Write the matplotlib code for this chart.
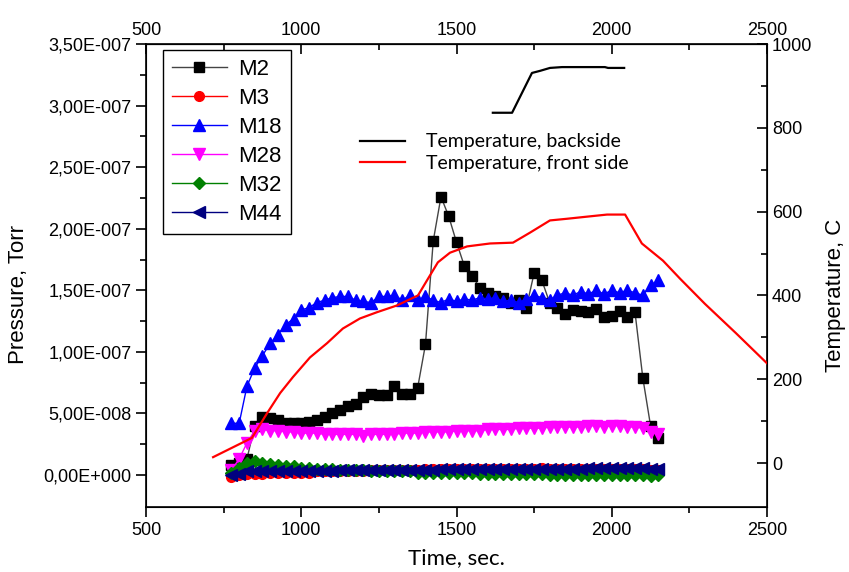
import numpy as np
import matplotlib
matplotlib.use("Agg")
import matplotlib.pyplot as plt
from matplotlib.ticker import FuncFormatter, MultipleLocator, FixedLocator


# time grid of the mass spectrometer scans, sec.
time_s = [775, 800, 825, 850, 875, 900, 925, 950, 975, 1000,
          1025, 1050, 1075, 1100, 1125, 1150, 1175, 1200, 1225, 1250,
          1275, 1300, 1325, 1350, 1375, 1400, 1425, 1450, 1475, 1500,
          1525, 1550, 1575, 1600, 1625, 1650, 1675, 1700, 1725, 1750,
          1775, 1800, 1825, 1850, 1875, 1900, 1925, 1950, 1975, 2000,
          2025, 2050, 2075, 2100, 2125, 2150]

# partial pressures in units of 1e-8 Torr
m2 = [0.8, 1.0, 1.3, 4.0, 4.7, 4.6, 4.5, 4.2, 4.2, 4.2,
      4.3, 4.5, 4.7, 5.0, 5.3, 5.6, 5.8, 6.3, 6.6, 6.5,
      6.5, 7.2, 6.6, 6.6, 7.1, 10.6, 19.0, 22.6, 21.0, 18.9,
      17.0, 16.2, 15.2, 14.8, 14.5, 14.4, 14.0, 14.2, 13.6, 16.4,
      15.8, 14.0, 13.6, 13.1, 13.4, 13.3, 13.2, 13.5, 12.8, 12.9,
      13.3, 12.8, 13.2, 7.9, 4.0, 3.0]
m3 = [-0.2, 0.0, 0.1, 0.1, 0.1, 0.2, 0.2, 0.2, 0.2, 0.2,
      0.2, 0.3, 0.3, 0.3, 0.3, 0.3, 0.3, 0.3, 0.4, 0.4,
      0.4, 0.4, 0.4, 0.4, 0.4, 0.5, 0.5, 0.5, 0.5, 0.5,
      0.5, 0.5, 0.5, 0.5, 0.5, 0.5, 0.5, 0.5, 0.5, 0.5,
      0.6, 0.5, 0.5, 0.5, 0.5, 0.5, 0.5, 0.5, 0.5, 0.5,
      0.5, 0.5, 0.5, 0.5, 0.4, 0.4]
m18 = [4.2, 4.2, 7.2, 8.7, 9.7, 10.7, 11.4, 12.2, 12.7, 13.4,
       13.6, 14.0, 14.2, 14.4, 14.5, 14.5, 14.2, 14.1, 14.0, 14.5,
       14.5, 14.6, 14.2, 14.6, 14.2, 14.5, 14.2, 14.0, 14.3, 14.1,
       14.3, 14.2, 14.4, 14.3, 14.4, 14.1, 14.2, 14.0, 14.3, 14.6,
       14.4, 14.2, 14.6, 14.8, 14.6, 14.9, 14.7, 15.0, 14.7, 15.0,
       14.8, 15.0, 14.8, 14.6, 15.4, 15.8]
m28 = [0.4, 1.3, 2.6, 3.6, 3.7, 3.6, 3.6, 3.5, 3.5, 3.4,
       3.4, 3.4, 3.3, 3.3, 3.3, 3.3, 3.3, 3.2, 3.3, 3.3,
       3.3, 3.3, 3.4, 3.4, 3.4, 3.5, 3.5, 3.5, 3.5, 3.6,
       3.6, 3.6, 3.6, 3.7, 3.7, 3.7, 3.7, 3.8, 3.8, 3.8,
       3.8, 3.9, 3.9, 3.9, 3.9, 3.9, 4.0, 4.0, 3.9, 4.0,
       4.0, 3.9, 3.9, 3.8, 3.5, 3.3]
m32 = [0.2, 0.6, 1.0, 1.1, 1.0, 0.9, 0.8, 0.7, 0.7, 0.6,
       0.6, 0.5, 0.5, 0.5, 0.4, 0.4, 0.4, 0.4, 0.3, 0.3,
       0.3, 0.3, 0.3, 0.3, 0.2, 0.2, 0.2, 0.2, 0.2, 0.2,
       0.2, 0.2, 0.1, 0.1, 0.1, 0.1, 0.1, 0.1, 0.1, 0.1,
       0.1, 0.0, 0.0, 0.0, 0.0, 0.0, 0.0, 0.0, 0.0, 0.0,
       0.0, 0.0, 0.0, 0.0, -0.1, 0.0]
m44 = [0.0, 0.1, 0.3, 0.3, 0.3, 0.3, 0.3, 0.3, 0.3, 0.3,
       0.3, 0.3, 0.3, 0.3, 0.4, 0.4, 0.4, 0.4, 0.4, 0.4,
       0.4, 0.4, 0.4, 0.4, 0.4, 0.4, 0.4, 0.5, 0.5, 0.5,
       0.5, 0.5, 0.5, 0.5, 0.5, 0.5, 0.5, 0.5, 0.5, 0.5,
       0.5, 0.5, 0.5, 0.5, 0.5, 0.5, 0.6, 0.6, 0.6, 0.6,
       0.6, 0.6, 0.6, 0.6, 0.5, 0.5]

# thermocouple readings, C
back_time = [1617, 1679, 1743, 1769, 1801, 1840, 1978, 1988, 2040]
back_temp = [836, 836, 931, 936, 943, 945, 945, 943, 943]
front_time = [716, 841, 890, 932, 973, 1028, 1083, 1134, 1189, 1244,
              1308, 1376, 1405, 1440, 1479, 1534, 1608, 1682, 1737, 1801,
              1856, 1920, 1985, 2043, 2097, 2165, 2220, 2300, 2400, 2500]
front_temp = [14, 60, 119, 167, 205, 252, 286, 321, 345, 360,
              376, 400, 436, 479, 502, 517, 524, 526, 550, 579,
              583, 588, 593, 593, 524, 483, 440, 380, 310, 238]

SANS = "Liberation Sans"
HUMANIST = "Lato"


def origin_sci(value, pos):
    """Origin style labels: 3,50E-007"""
    if abs(value) < 1e-20:
        return "0,00E+000"
    exponent = int(np.floor(np.log10(abs(value)) + 1e-9))
    mantissa = value / 10 ** exponent
    sign = "+" if exponent >= 0 else "-"
    return f"{mantissa:.2f}".replace(".", ",") + f"E{sign}{abs(exponent):03d}"


fig = plt.figure(figsize=(8.49, 5.72), dpi=100)
ax = fig.add_axes([0.172, 0.1136, 0.7314, 0.8094])

series = [
    ("M2", m2, "s", "black", "#444444", 7),
    ("M3", m3, "o", "red", "red", 7),
    ("M18", m18, "^", "blue", "blue", 8),
    ("M28", m28, "v", "magenta", "magenta", 8),
    ("M32", m32, "D", "green", "green", 6.5),
    ("M44", m44, "<", "navy", "navy", 8),
]

t = np.array(time_s)
for label, values, marker, color, line_color, size in series:
    ax.plot(t, np.array(values) * 1e-8, color=line_color, linewidth=1.0,
            marker=marker, markersize=size, markerfacecolor=color,
            markeredgecolor=color, label=label)

ax.set_xlim(500, 2500)
ax.set_ylim(-2.6e-8, 3.5e-7)
ax.xaxis.set_major_locator(MultipleLocator(500))
ax.xaxis.set_minor_locator(MultipleLocator(250))
ax.yaxis.set_major_locator(FixedLocator(np.arange(0, 3.51e-7, 5e-8)))
ax.yaxis.set_minor_locator(FixedLocator(np.arange(2.5e-8, 3.3e-7, 5e-8)))
ax.yaxis.set_major_formatter(FuncFormatter(origin_sci))
ax.tick_params(axis="both", which="major", direction="out", length=7,
               width=1.2, labelsize=13)
ax.tick_params(axis="both", which="minor", direction="out", length=4,
               width=1.2)
for lab in ax.get_xticklabels() + ax.get_yticklabels():
    lab.set_fontfamily(SANS)
for spine in ax.spines.values():
    spine.set_linewidth(1.2)

ax.set_xlabel("Time, sec.", fontsize=16, fontfamily=HUMANIST)
ax.xaxis.set_label_coords(0.5, -0.088)
ax.set_ylabel("Pressure, Torr", fontsize=16, fontfamily=SANS)
ax.yaxis.set_label_coords(-0.188, 0.458)

# top axis repeats the time scale, ticks pointing inwards
top = ax.secondary_xaxis("top")
top.xaxis.set_major_locator(MultipleLocator(500))
top.xaxis.set_minor_locator(MultipleLocator(250))
top.tick_params(axis="x", which="major", direction="in", length=7,
                width=1.2, labelsize=13)
top.tick_params(axis="x", which="minor", direction="in", length=4, width=1.2)
for lab in top.get_xticklabels():
    lab.set_fontfamily(SANS)

legend1 = ax.legend(loc="upper left", bbox_to_anchor=(0.027, 0.987),
                    borderaxespad=0, fancybox=False, edgecolor="black",
                    framealpha=1, handlelength=2.5, labelspacing=0.36,
                    handletextpad=0.5, borderpad=0.4,
                    prop={"family": SANS, "size": 16})
legend1.get_frame().set_linewidth(1.0)

ax2 = ax.twinx()
ax2.plot(back_time, back_temp, color="black", linewidth=1.6,
         label="Temperature, backside")
ax2.plot(front_time, front_temp, color="red", linewidth=1.6,
         label="Temperature, front side")
ax2.set_ylim(-105, 1000)
ax2.yaxis.set_major_locator(FixedLocator([0, 200, 400, 600, 800, 1000]))
ax2.yaxis.set_minor_locator(FixedLocator([100, 300, 500, 700, 900]))
ax2.tick_params(axis="y", which="major", direction="in", length=7,
                width=1.2, labelsize=13)
ax2.tick_params(axis="y", which="minor", direction="in", length=4, width=1.2)
for lab in ax2.get_yticklabels():
    lab.set_fontfamily(SANS)
ax2.set_ylabel("Temperature, C", fontsize=16, fontfamily=SANS)
ax2.yaxis.set_label_coords(1.093, 0.457)

ax2.legend(loc="upper left", bbox_to_anchor=(0.345, 0.807), frameon=False,
           borderaxespad=0, borderpad=0, handlelength=2.3,
           handletextpad=1.1, labelspacing=0.25,
           prop={"family": HUMANIST, "size": 14})

fig.savefig("out.png", dpi=100)
plt.close(fig)
